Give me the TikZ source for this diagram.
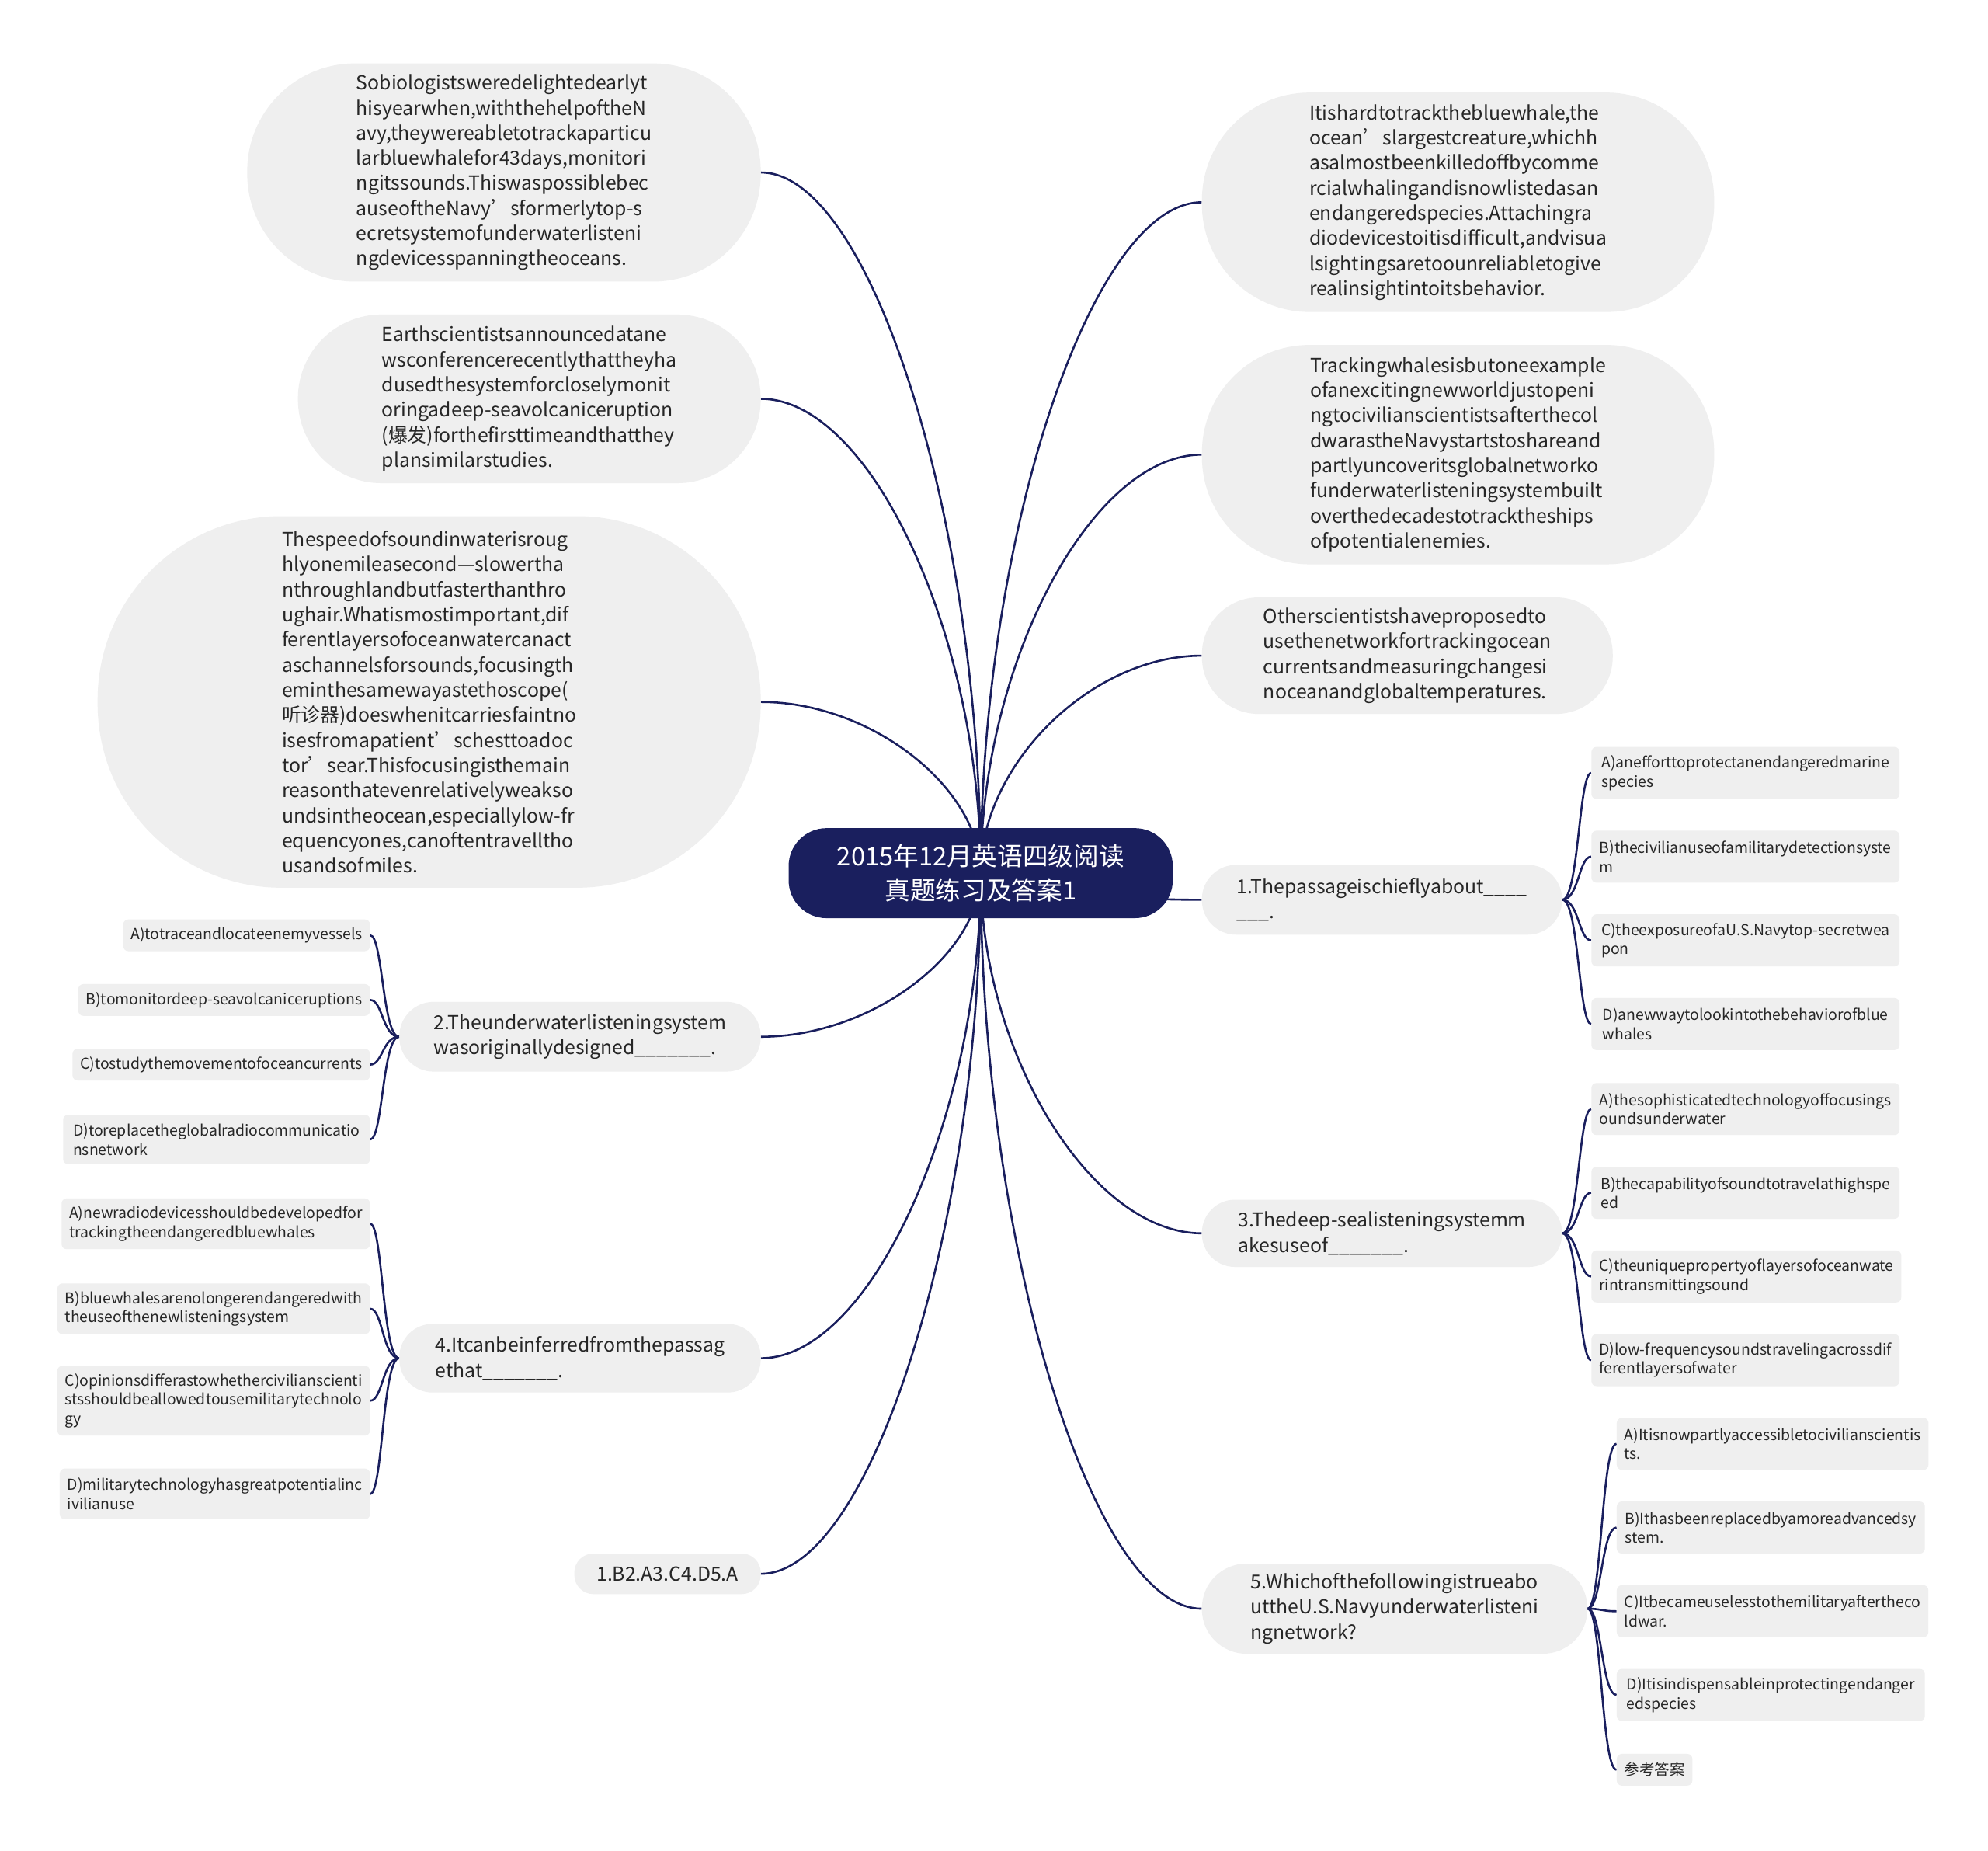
\documentclass[tikz,border=0pt]{standalone}
\usepackage{fontspec}
\setmainfont{Noto Sans CJK SC}
\usetikzlibrary{calc}
\pgfdeclarelayer{bg}
\pgfsetlayers{bg,main}
\definecolor{navy}{HTML}{1A1F5E}
\definecolor{boxgray}{HTML}{EFEFEF}
\definecolor{txt}{HTML}{262626}
\hyphenpenalty=10000 \exhyphenpenalty=10000
\newcommand\mmlink[2]{\draw[link] (#1) .. controls ($(#1)!0.5!(#1|-#2)$) and ($(#2)!0.5!(#1|-#2)$) .. (#2);}
\newcommand\mmbr[3]{\draw[link] (#1) .. controls ($(#1)+(#3,0)$) and ($(#1|-#2)+(#3,0)$) .. (#2);}
\tikzset{
  link/.style={draw=navy, line width=1.6pt},
  big/.style={fill=boxgray, align=left, inner sep=0pt, text=txt, font=\fontsize{15.2pt}{19.8pt}\selectfont},
  opt/.style={fill=boxgray, align=left, inner xsep=6pt, inner ysep=4pt, rounded corners=4pt, text=txt, font=\fontsize{11.9pt}{15pt}\selectfont},
  rootbox/.style={fill=navy, text=white, align=center, rounded corners=30pt, font=\fontsize{20pt}{27pt}\selectfont, minimum width=303pt, minimum height=71pt, inner sep=0pt}
}
\begin{document}
\begin{tikzpicture}[x=1pt,y=-1pt]
\begin{pgfonlayer}{bg}
\fill[white] (0,0) rectangle (1568,1459);
\end{pgfonlayer}
\useasboundingbox (0,0) rectangle (1568,1459);

% root
\node[rootbox] (root) at (773.5,688.5) {2015年12月英语四级阅读\\真题练习及答案1};

% left big boxes
\node[big, minimum width=405pt, minimum height=172pt, rounded corners=85pt] (nA) at (397.5,136) {Sobiologistsweredelightedearlyt\\hisyearwhen,withthehelpoftheN\\avy,theywereabletotrackaparticu\\larbluewhalefor43days,monitori\\ngitssounds.Thiswaspossiblebec\\auseoftheNavy’sformerlytop-s\\ecretsystemofunderwaterlisteni\\ngdevicesspanningtheoceans.};
\node[big, minimum width=365pt, minimum height=133pt, rounded corners=66pt] (nB) at (417.5,314.5) {Earthscientistsannouncedatane\\wsconferencerecentlythattheyha\\dusedthesystemforcloselymonit\\oringadeep-seavolcaniceruption\\(爆发)forthefirsttimeandthatthey\\plansimilarstudies.};
\node[big, minimum width=523pt, minimum height=293pt, rounded corners=145pt] (nC) at (338.5,553.5) {Thespeedofsoundinwaterisroug\\hlyonemileasecond—slowertha\\nthroughlandbutfasterthanthro\\ughair.Whatismostimportant,dif\\ferentlayersofoceanwatercanact\\aschannelsforsounds,focusingth\\eminthesamewayastethoscope(\\听诊器)doeswhenitcarriesfaintno\\isesfromapatient’schesttoadoc\\tor’sear.Thisfocusingisthemain\\reasonthatevenrelativelyweakso\\undsintheocean,especiallylow-fr\\equencyones,canoftentravelltho\\usandsofmiles.};
\node[big, minimum width=285pt, minimum height=55pt, rounded corners=27pt] (q2) at (457.5,817.5) {2.Theunderwaterlisteningsystem\\wasoriginallydesigned\_\_\_\_\_\_\_.};
\node[big, minimum width=285pt, minimum height=54pt, rounded corners=26pt] (q4) at (457.5,1071) {4.Itcanbeinferredfromthepassag\\ethat\_\_\_\_\_\_\_.};
\node[big, minimum width=147pt, minimum height=32pt, rounded corners=15pt] (ans) at (526.5,1241) {1.B2.A3.C4.D5.A};

% right big boxes
\node[big, minimum width=404pt, minimum height=173pt, rounded corners=85pt] (r1) at (1150,159.5) {Itishardtotrackthebluewhale,the\\ocean’slargestcreature,whichh\\asalmostbeenkilledoffbycomme\\rcialwhalingandisnowlistedasan\\endangeredspecies.Attachingra\\diodevicestoitisdifficult,andvisua\\lsightingsaretoounreliabletogive\\realinsightintoitsbehavior.};
\node[big, minimum width=404pt, minimum height=173pt, rounded corners=85pt] (r2) at (1150,358.5) {Trackingwhalesisbutoneexample\\ofanexcitingnewworldjustopeni\\ngtocivilianscientistsafterthecol\\dwarastheNavystartstoshareand\\partlyuncoveritsglobalnetworko\\funderwaterlisteningsystembuilt\\overthedecadestotracktheships\\ofpotentialenemies.};
\node[big, minimum width=324pt, minimum height=92pt, rounded corners=45pt] (r3) at (1110,517) {Otherscientistshaveproposedto\\usethenetworkfortrackingocean\\currentsandmeasuringchangesi\\noceanandglobaltemperatures.};
\node[big, minimum width=284pt, minimum height=55pt, rounded corners=27pt] (q1) at (1090,709.5) {1.Thepassageischieflyabout\_\_\_\_\\\_\_\_.};
\node[big, minimum width=284pt, minimum height=53pt, rounded corners=26pt] (q3) at (1090,972.5) {3.Thedeep-sealisteningsystemm\\akesuseof\_\_\_\_\_\_\_.};
\node[big, minimum width=304pt, minimum height=71pt, rounded corners=35pt] (q5) at (1100,1268.5) {5.Whichofthefollowingistrueabo\\uttheU.S.Navyunderwaterlisteni\\ngnetwork?};

% options Q1
\node[opt, anchor=west, minimum width=243pt, minimum height=41pt] (o1a) at (1255,609.5) {A)anefforttoprotectanendangeredmarine\\species};
\node[opt, anchor=west, minimum width=243pt, minimum height=41pt] (o1b) at (1255,675.5) {B)thecivilianuseofamilitarydetectionsyste\\m};
\node[opt, anchor=west, minimum width=243pt, minimum height=41pt] (o1c) at (1255,741.5) {C)theexposureofaU.S.Navytop-secretwea\\pon};
\node[opt, anchor=west, minimum width=243pt, minimum height=41pt] (o1d) at (1255,807.5) {D)anewwaytolookintothebehaviorofblue\\whales};
% options Q3
\node[opt, anchor=west, minimum width=243pt, minimum height=41pt] (o3a) at (1255,874.5) {A)thesophisticatedtechnologyoffocusings\\oundsunderwater};
\node[opt, anchor=west, minimum width=243pt, minimum height=41pt] (o3b) at (1255,940.5) {B)thecapabilityofsoundtotravelathighspe\\ed};
\node[opt, anchor=west, minimum width=243pt, minimum height=41pt] (o3c) at (1255,1006.5) {C)theuniquepropertyoflayersofoceanwate\\rintransmittingsound};
\node[opt, anchor=west, minimum width=243pt, minimum height=41pt] (o3d) at (1255,1072.5) {D)low-frequencysoundstravelingacrossdif\\ferentlayersofwater};
% options Q5
\node[opt, anchor=west, minimum width=243pt, minimum height=41pt] (o5a) at (1275,1138.5) {A)Itisnowpartlyaccessibletocivilianscientis\\ts.};
\node[opt, anchor=west, minimum width=243pt, minimum height=41pt] (o5b) at (1275,1204.5) {B)Ithasbeenreplacedbyamoreadvancedsy\\stem.};
\node[opt, anchor=west, minimum width=243pt, minimum height=41pt] (o5c) at (1275,1270.5) {C)Itbecameuselesstothemilitaryaftertheco\\ldwar.};
\node[opt, anchor=west, minimum width=243pt, minimum height=41pt] (o5d) at (1275,1336.5) {D)Itisindispensableinprotectingendanger\\edspecies};
\node[opt, anchor=west, minimum height=25pt] (o5e) at (1275,1395.5) {参考答案};
% options Q2
\node[opt, anchor=east, minimum height=25pt] (o2a) at (292,737.5) {A)totraceandlocateenemyvessels};
\node[opt, anchor=east, minimum height=25pt] (o2b) at (292,788.5) {B)tomonitordeep-seavolcaniceruptions};
\node[opt, anchor=east, minimum height=25pt] (o2c) at (292,839.5) {C)tostudythemovementofoceancurrents};
\node[opt, anchor=east, minimum width=242pt, minimum height=39pt] (o2d) at (292,898.5) {D)toreplacetheglobalradiocommunicatio\\nsnetwork};
% options Q4
\node[opt, anchor=east, minimum width=242pt, minimum height=40pt] (o4a) at (292,965) {A)newradiodevicesshouldbedevelopedfor\\trackingtheendangeredbluewhales};
\node[opt, anchor=east, minimum width=242pt, minimum height=40pt] (o4b) at (292,1032) {B)bluewhalesarenolongerendangeredwith\\theuseofthenewlisteningsystem};
\node[opt, anchor=east, minimum width=242pt, minimum height=55pt] (o4c) at (292,1104.5) {C)opinionsdifferastowhethercivilianscienti\\stsshouldbeallowedtousemilitarytechnolo\\gy};
\node[opt, anchor=east, minimum width=242pt, minimum height=40pt] (o4d) at (292,1178) {D)militarytechnologyhasgreatpotentialinc\\ivilianuse};

\begin{pgfonlayer}{bg}
\mmlink{root.center}{nA.east}
\mmlink{root.center}{nB.east}
\mmlink{root.center}{nC.east}
\mmlink{root.center}{q2.east}
\mmlink{root.center}{q4.east}
\mmlink{root.center}{ans.east}
\mmlink{root.center}{r1.west}
\mmlink{root.center}{r2.west}
\mmlink{root.center}{r3.west}
\mmlink{root.center}{q1.west}
\mmlink{root.center}{q3.west}
\mmlink{root.center}{q5.west}
\foreach \o in {o1a,o1b,o1c,o1d} {\mmbr{q1.east}{\o.west}{13}}
\foreach \o in {o3a,o3b,o3c,o3d} {\mmbr{q3.east}{\o.west}{13}}
\foreach \o in {o5a,o5b,o5c,o5d,o5e} {\mmbr{q5.east}{\o.west}{11}}
\foreach \o in {o2a,o2b,o2c,o2d} {\mmbr{q2.west}{\o.east}{-13}}
\foreach \o in {o4a,o4b,o4c,o4d} {\mmbr{q4.west}{\o.east}{-13}}
\end{pgfonlayer}
\end{tikzpicture}
\end{document}
